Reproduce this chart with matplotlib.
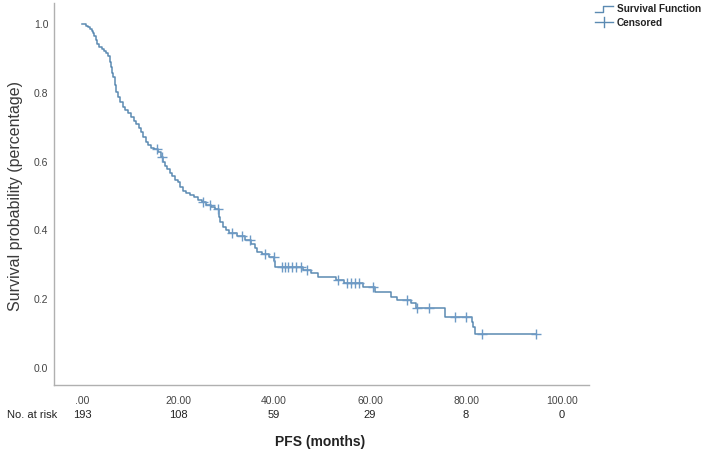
import numpy as np
import matplotlib
matplotlib.use("Agg")
import matplotlib.pyplot as plt
from matplotlib.lines import Line2D

plt.rcParams['font.family'] = ['Liberation Sans', 'DejaVu Sans']

# Kaplan-Meier step curve (time in months, survival after each step)
step_times = [0, 0.8, 1.2, 1.6, 2.0, 2.3, 2.6, 2.9, 3.2, 3.6, 4.1, 4.6, 5.1, 5.5, 5.8,
              6.0, 6.3, 6.5, 6.8, 7.1, 7.5, 8.0, 8.5, 9.0, 9.6, 10.2, 10.8, 11.3, 11.8,
              12.3, 12.8, 13.3, 13.7, 14.3, 15.0, 15.9, 16.4, 16.8, 17.2, 17.7, 18.3,
              18.8, 19.4, 20.0, 20.5, 21.0, 21.7, 22.5, 23.3, 24.2, 25.0, 25.9, 26.9,
              27.6, 28.6, 28.8, 29.4, 29.9, 30.6, 32.2, 34.0, 35.3, 36.0, 36.4, 37.5,
              39.0, 40.0, 40.3, 46.0, 47.8, 49.2, 53.0, 54.5, 58.6, 61.0, 64.4, 65.6,
              68.6, 69.5, 75.6, 81.2, 81.5, 81.8]
step_surv = [1.0, 0.995, 0.990, 0.984, 0.979, 0.973, 0.964, 0.953, 0.943, 0.933, 0.927,
             0.922, 0.916, 0.907, 0.890, 0.874, 0.858, 0.845, 0.822, 0.801, 0.788, 0.772,
             0.760, 0.750, 0.741, 0.730, 0.718, 0.709, 0.699, 0.686, 0.672, 0.658, 0.648,
             0.641, 0.637, 0.628, 0.614, 0.600, 0.588, 0.579, 0.567, 0.557, 0.548, 0.540,
             0.527, 0.515, 0.508, 0.503, 0.498, 0.490, 0.482, 0.474, 0.468, 0.462, 0.440,
             0.425, 0.411, 0.400, 0.392, 0.384, 0.372, 0.360, 0.348, 0.338, 0.333, 0.324,
             0.310, 0.294, 0.285, 0.276, 0.265, 0.256, 0.247, 0.236, 0.222, 0.208, 0.198,
             0.188, 0.174, 0.150, 0.135, 0.120, 0.099]
end_time = 94.6

# Censored observations (months)
censor_times = [15.6, 16.6, 25.3, 26.7, 28.4, 31.2, 33.3, 35.0, 38.1, 39.9, 41.6, 42.3,
                43.0, 43.8, 44.6, 45.7, 46.8, 53.4, 55.1, 56.0, 56.8, 57.6, 60.7, 67.7,
                69.7, 72.2, 77.6, 79.9, 83.3, 94.6]

x_ticks = [0, 20, 40, 60, 80, 100]
x_tick_labels = ['.00', '20.00', '40.00', '60.00', '80.00', '100.00']
y_ticks = [0.0, 0.2, 0.4, 0.6, 0.8, 1.0]
at_risk = [193, 108, 59, 29, 8, 0]

line_color = '#5b8ab2'
marker_color = '#6d9ac6'
text_color = '#3a3a3a'

fig = plt.figure(figsize=(7.09, 4.5), dpi=100)
ax = fig.add_axes([54 / 709, 65 / 450, (589 - 54) / 709, (385 - 3) / 450])

t_arr = np.array(step_times + [end_time])
s_arr = np.array(step_surv + [step_surv[-1]])
ax.plot(t_arr, s_arr, drawstyle='steps-post', color=line_color, lw=1.1)

idx = np.searchsorted(np.array(step_times), np.array(censor_times), side='right') - 1
c_surv = np.array(step_surv)[idx]
ax.plot(censor_times, c_surv, linestyle='none', marker='+', markersize=6.5,
        markeredgewidth=1.0, color=marker_color)

ax.set_xlim(-5.83, 105.6)
ax.set_ylim(-0.049, 1.061)
ax.set_xticks(x_ticks)
ax.set_xticklabels(x_tick_labels)
ax.set_yticks(y_ticks)
ax.set_yticklabels([f'{v:.1f}' for v in y_ticks])
ax.tick_params(axis='both', length=0, labelsize=7.5, labelcolor='#444444')
ax.tick_params(axis='x', pad=8)
ax.tick_params(axis='y', pad=4)
for s in ['top', 'right']:
    ax.spines[s].set_visible(False)
for s in ['left', 'bottom']:
    ax.spines[s].set_color('#b0b0b0')
    ax.spines[s].set_linewidth(1.0)

def fx(px):
    return px / 709

def fy(py):
    return 1 - py / 450

fig.text(fx(16), fy(196), 'Survival probability (percentage)', rotation=90, ha='center',
         va='center', fontsize=11.5, color=text_color)

# Number at risk row
for xt, n in zip(x_ticks, at_risk):
    ax.text(xt, -0.0785, str(n), transform=ax.get_xaxis_transform(), ha='center', va='center',
            fontsize=8, color='#222222')
fig.text(fx(57), fy(415), 'No. at risk', ha='right', va='center', fontsize=8, color='#222222')

fig.text(fx(320), fy(442), 'PFS (months)', ha='center', va='center', fontsize=10,
         fontweight='bold', color='#222222')

# Legend (manual)
fig.add_artist(Line2D([fx(595), fx(603), fx(603), fx(613)], [fy(12), fy(12), fy(6), fy(6)],
                      transform=fig.transFigure, color=line_color, lw=1.0))
fig.add_artist(Line2D([fx(595), fx(613)], [fy(22), fy(22)], transform=fig.transFigure,
                      color=line_color, lw=1.0))
fig.add_artist(Line2D([fx(604), fx(604)], [fy(17), fy(27)], transform=fig.transFigure,
                      color=line_color, lw=1.0))
fig.text(fx(617), fy(9), 'Survival Function', ha='left', va='center', fontsize=7.2,
         fontweight='bold', color='#222222')
fig.text(fx(617), fy(23), 'Censored', ha='left', va='center', fontsize=7.2,
         fontweight='bold', color='#222222')

fig.savefig('out.png', dpi=100)
